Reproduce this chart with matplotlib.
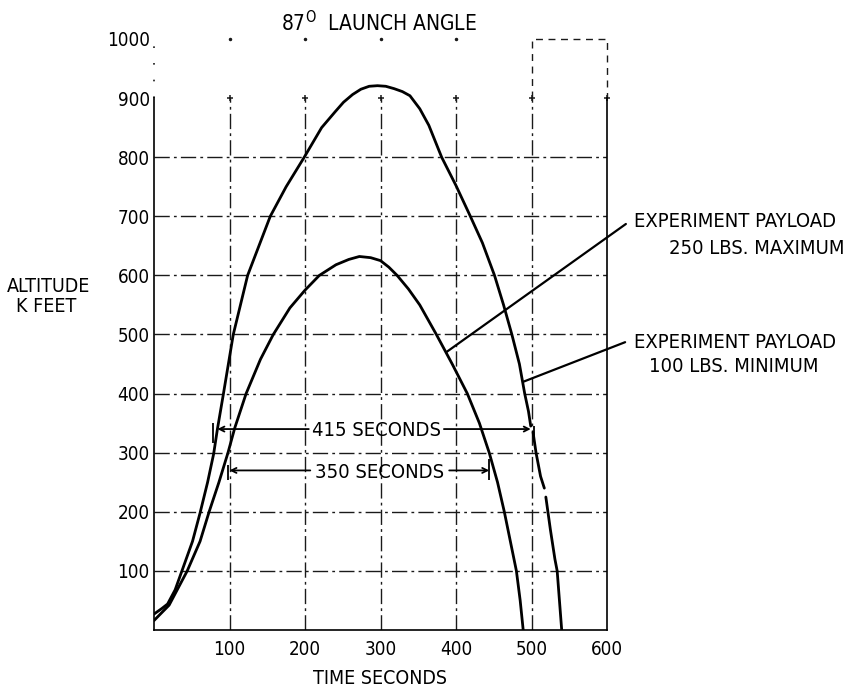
import matplotlib.pyplot as plt
import numpy as np

# ---- data ----
# upper curve (100 lbs payload), time in seconds, altitude in K feet
t_outer = [0, 10, 18, 28, 37, 51, 61, 71, 79, 84, 92, 105, 124, 139, 154, 175, 199, 222, 240,
           251, 263, 274, 285, 296, 307, 318, 329, 339, 352, 364, 381, 400, 419, 435, 451, 463,
           474, 484, 491, 496, 499]
alt_outer = [27, 36, 44, 68, 100, 150, 198, 250, 298, 340, 400, 500, 600, 650, 700, 750, 800, 850,
             877, 893, 906, 915, 920, 921, 920, 916, 911, 904, 882, 854, 800, 752, 700, 655, 600,
             550, 500, 450, 400, 370, 345]
# broken tail of the upper curve after the 415 s mark
t_tail = [502, 506, 512, 517, np.nan, 519, 525, 531, 534, 537, 540]
alt_tail = [335, 300, 260, 240, np.nan, 225, 170, 120, 100, 50, 0]

# lower curve (250 lbs payload)
t_inner = [0, 20, 44, 61, 73, 86, 98, 107, 122, 141, 158, 180, 200, 219, 241, 258, 272, 287,
           300, 311, 322, 337, 352, 374, 395, 415, 431, 444, 455, 464, 472, 480, 485, 489]
alt_inner = [16, 42, 100, 150, 200, 250, 300, 342, 400, 458, 500, 545, 575, 600, 618, 627, 632,
             630, 625, 614, 600, 577, 550, 500, 450, 400, 350, 300, 250, 200, 150, 100, 50, 0]

x_ticks = [100, 200, 300, 400, 500, 600]
y_ticks = [100, 200, 300, 400, 500, 600, 700, 800, 900, 1000]
grid_y = [100, 200, 300, 400, 500, 600, 700, 800]
grid_x = [100, 200, 300, 400, 500]

span_415 = (84, 499, 340)
span_350 = (100, 444, 270)

plt.rcParams['font.family'] = ['DejaVu Sans']
plt.rcParams['font.stretch'] = 'condensed'

fig = plt.figure(figsize=(8.51, 6.90), dpi=100)
ax = fig.add_axes([154 / 851, 60 / 690, 453 / 851, 591 / 690])
ax.set_xlim(0, 600)
ax.set_ylim(0, 1000)

gstyle = dict(color='#1a1a1a', lw=1.0, linestyle=(0, (11, 3, 2, 3)))
ax.hlines(grid_y, 0, 600, **gstyle)
ax.vlines(grid_x, 0, 900, **gstyle)

# top part of the frame is only partly drawn
ax.spines['top'].set_visible(False)
ax.spines['left'].set_bounds(0, 900)
ax.spines['right'].set_bounds(0, 900)
for s in ['left', 'right', 'bottom']:
    ax.spines[s].set_linewidth(1.2)
ax.plot([500, 500, 600, 600], [900, 1000, 1000, 900], color='#1a1a1a', lw=1.0,
        linestyle=(0, (5, 4)), clip_on=False)
ax.plot([0, 0], [900, 1000], color='#1a1a1a', lw=1.2, linestyle=(0, (1, 9)), clip_on=False)
ax.plot(x_ticks, [900] * len(x_ticks), '+', color='#1a1a1a', ms=5, mew=1.1, clip_on=False)
ax.plot(x_ticks[:4], [1000] * 4, '.', color='#1a1a1a', ms=3, clip_on=False)

# curves
for tt, aa in [(t_outer, alt_outer), (t_tail, alt_tail), (t_inner, alt_inner)]:
    ax.plot(tt, aa, color='black', lw=2.0, solid_capstyle='round', solid_joinstyle='round')

# time spans
def span(ax, x0, x1, y, label, gap0, gap1, tick0, tick1):
    arr = dict(arrowstyle='->', color='black', lw=1.3, shrinkA=0, shrinkB=0, mutation_scale=9)
    ax.annotate('', xy=(x0, y), xytext=(gap0, y), arrowprops=arr)
    ax.annotate('', xy=(x1, y), xytext=(gap1, y), arrowprops=arr)
    ax.text((gap0 + gap1) / 2, y - 3, label, ha='center', va='center', fontsize=14.5)
    ax.vlines([tick0[0]], tick0[1], tick0[2], color='black', lw=1.3)
    ax.vlines([tick1[0]], tick1[1], tick1[2], color='black', lw=1.3)

span(ax, span_415[0], span_415[1], span_415[2], '415 SECONDS', 205, 384,
     (78, 317, 350), (503, 322, 345))
span(ax, span_350[0], span_350[1], span_350[2], '350 SECONDS', 207, 391,
     (98, 253, 280), (444, 253, 290))

# ticks and labels
ax.set_xticks(x_ticks)
ax.set_yticks(y_ticks)
ax.set_xticklabels([str(v) for v in x_ticks], fontsize=13.5)
ax.set_yticklabels([str(v) for v in y_ticks], fontsize=13.5)
ax.tick_params(axis='x', length=0, pad=7)
ax.tick_params(axis='y', length=0, pad=3)

fig.text(380 / 851, 1 - 678 / 690, 'TIME SECONDS', ha='center', va='center', fontsize=14)
fig.text(49 / 851, 1 - 287 / 690, 'ALTITUDE', ha='center', va='center', fontsize=14)
fig.text(46 / 851, 1 - 306 / 690, 'K FEET', ha='center', va='center', fontsize=14)
fig.text(379 / 851, 1 - 23 / 690, r'87$^{\mathrm{O}}$  LAUNCH ANGLE', ha='center', va='center',
         fontsize=15)

# payload call-outs
lead = dict(arrowstyle='-', color='black', lw=1.6, shrinkA=0, shrinkB=0)
ax.annotate('', xy=(387, 470), xytext=(625, 687), arrowprops=lead, annotation_clip=False)
ax.annotate('', xy=(489, 420), xytext=(624, 487), arrowprops=lead, annotation_clip=False)
fig.text(735 / 851, 1 - 222 / 690, 'EXPERIMENT PAYLOAD', ha='center', va='center', fontsize=14.5)
fig.text(757 / 851, 1 - 248 / 690, '250 LBS. MAXIMUM', ha='center', va='center', fontsize=14.5)
fig.text(735 / 851, 1 - 342 / 690, 'EXPERIMENT PAYLOAD', ha='center', va='center', fontsize=14.5)
fig.text(734 / 851, 1 - 367 / 690, '100 LBS. MINIMUM', ha='center', va='center', fontsize=14.5)

plt.savefig('out.png', dpi=100)
